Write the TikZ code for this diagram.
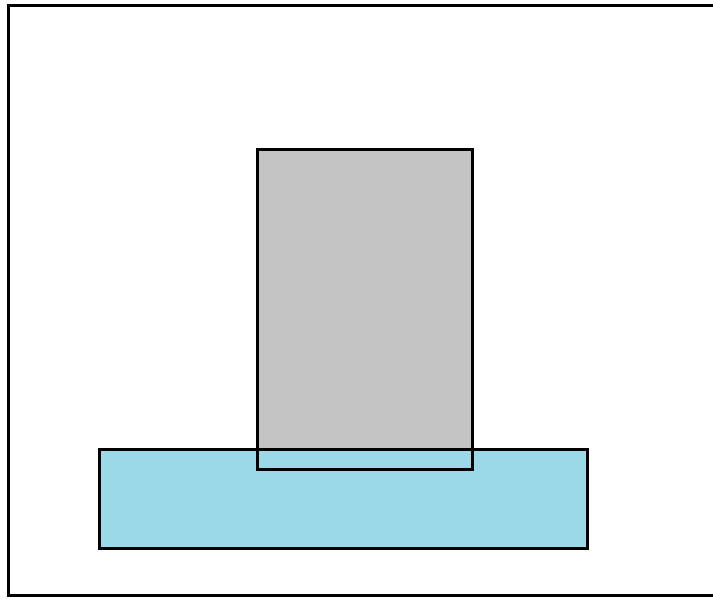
\documentclass[tikz,border=0pt]{standalone}
\definecolor{boxgray}{HTML}{C4C4C4}
\definecolor{boxblue}{HTML}{9BD8E8}
\begin{document}
\begin{tikzpicture}[x=1pt,y=-1pt,line width=3pt,
  outline/.style={draw=black,line width=3pt}]
\useasboundingbox (0,0) rectangle (713,598);
\clip (0,0) rectangle (713,598);
\draw[outline] (8.5,5.5) rectangle (740,595.5);
\fill[boxgray] (257,149) rectangle (472,469);
\fill[boxblue] (99,449) rectangle (587,548);
\draw[outline] (99,449) rectangle (587,548);
\draw[outline] (257,149) rectangle (472,469);
\end{tikzpicture}
\end{document}
